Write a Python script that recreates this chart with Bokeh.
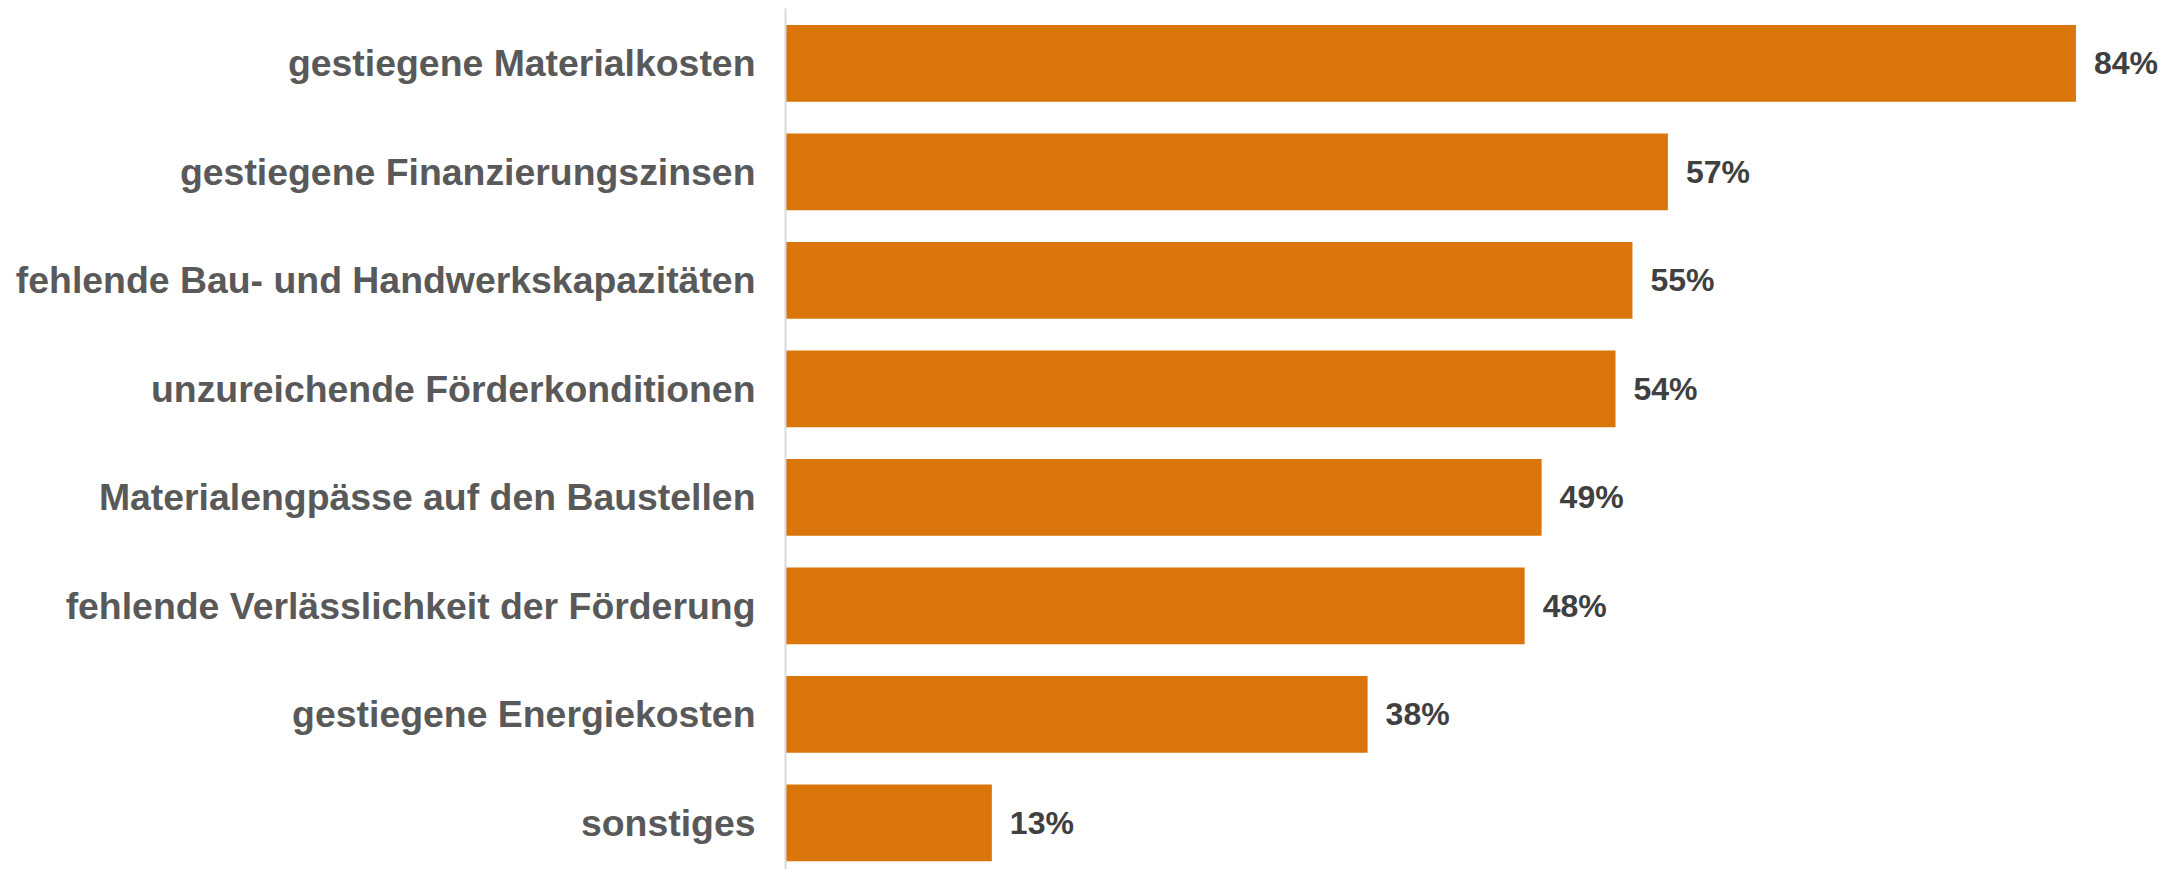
from bokeh.plotting import figure
from bokeh.models import Range1d, FixedTicker, ColumnDataSource
from bokeh.core.properties import value
from bokeh.embed import file_html
from bokeh.resources import INLINE

categories = [
    "gestiegene Materialkosten",
    "gestiegene Finanzierungszinsen",
    "fehlende Bau- und Handwerkskapazitäten",
    "unzureichende Förderkonditionen",
    "Materialengpässe auf den Baustellen",
    "fehlende Verlässlichkeit der Förderung",
    "gestiegene Energiekosten",
    "sonstiges",
]
values = [83.8, 57.3, 55.0, 53.9, 49.1, 48.0, 37.8, 13.4]
labels = [f"{round(v)}%" for v in values]

positions = list(range(len(categories)))
src = ColumnDataSource(dict(y=positions, v=values, lab=labels, cat=categories))

p = figure(width=2164, height=869, output_backend="svg", toolbar_location=None,
           x_range=Range1d(0, 89.55), y_range=Range1d(7.43, -0.505),
           x_axis_location=None,
           min_border_left=785, min_border_right=0, min_border_top=8, min_border_bottom=0)

p.hbar(y="y", right="v", left=0, height=0.707, source=src,
       fill_color="#D97509", line_color=None)
p.text(x="v", y="y", text="lab", source=src, x_offset=18,
       text_baseline="middle", text_align="left",
       text_font=value("Liberation Sans"), text_font_style="bold",
       text_font_size="32px", text_color="#404040")

p.yaxis.ticker = FixedTicker(ticks=positions)
p.yaxis.major_label_overrides = {i: c for i, c in enumerate(categories)}
p.yaxis.major_label_text_font = "Liberation Sans"
p.yaxis.major_label_text_font_style = "bold"
p.yaxis.major_label_text_font_size = "37.4px"
p.yaxis.major_label_text_color = "#595959"
p.yaxis.major_label_standoff = 30
p.yaxis.major_tick_line_color = None
p.yaxis.minor_tick_line_color = None
p.yaxis.major_tick_out = 0
p.yaxis.major_tick_in = 0
p.yaxis.axis_line_color = "#d9d9d9"
p.yaxis.axis_line_width = 2

p.grid.visible = False
p.outline_line_color = None
p.background_fill_color = "white"
p.border_fill_color = "white"

open("out.html", "w").write(file_html(p, INLINE))
